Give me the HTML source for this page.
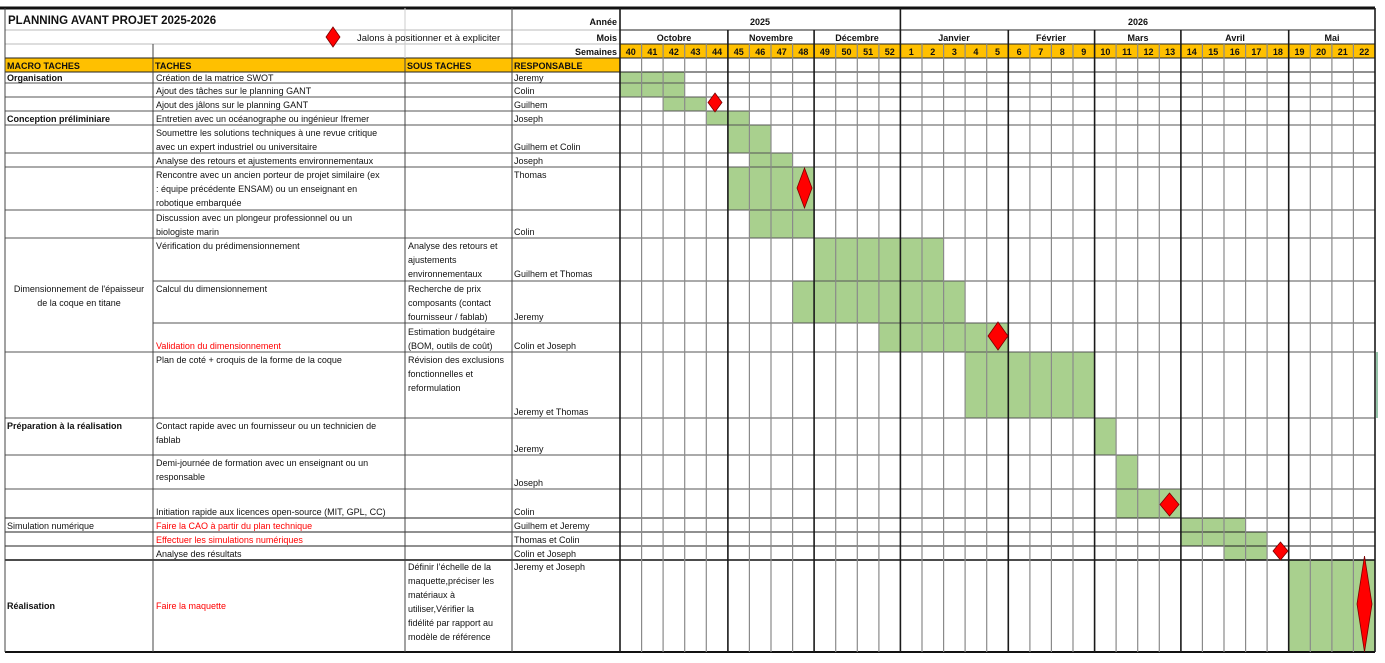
<!DOCTYPE html>
<html><head><meta charset="utf-8"><style>
html,body{margin:0;padding:0;background:#fff;}
svg{display:block;font-family:"Liberation Sans",sans-serif;}
.t{font-size:9px;fill:#111;}
.b{font-size:9px;font-weight:bold;fill:#111;}
.r{font-size:9px;fill:#ff0000;}
</style></head><body>
<svg width="1385" height="663" viewBox="0 0 1385 663" xmlns="http://www.w3.org/2000/svg">
<!-- orange fills -->
<rect x="5" y="58" width="615" height="14" fill="#FFC000"/>
<rect x="620" y="44" width="755" height="14" fill="#FFC000"/>
<!-- bars -->
<g fill="#A9D08E">
<rect x="620" y="72" width="64.7" height="11"/>
<rect x="620" y="83" width="64.7" height="14"/>
<rect x="663.1" y="97" width="43.2" height="14"/>
<rect x="706.3" y="111" width="43.1" height="14"/>
<rect x="727.9" y="125" width="43.1" height="28"/>
<rect x="749.4" y="153" width="43.2" height="14"/>
<rect x="727.9" y="167" width="86.2" height="43"/>
<rect x="749.4" y="210" width="64.7" height="28"/>
<rect x="814.1" y="238" width="129.5" height="43"/>
<rect x="792.6" y="281" width="172.5" height="42"/>
<rect x="878.9" y="323" width="129.4" height="29"/>
<rect x="965.1" y="352" width="129.5" height="66"/>
<rect x="1094.6" y="418" width="21.5" height="37"/>
<rect x="1116.1" y="455" width="21.6" height="34"/>
<rect x="1116.1" y="489" width="64.8" height="29"/>
<rect x="1180.9" y="518" width="64.7" height="14"/>
<rect x="1180.9" y="532" width="86.2" height="14"/>
<rect x="1224" y="546" width="43.1" height="14"/>
<rect x="1288.7" y="560" width="86.3" height="92"/>
</g>
<!-- horizontal lines -->
<g stroke="#555" stroke-width="1">
<line x1="5" y1="30" x2="620" y2="30" stroke="#bbb"/>
<line x1="5" y1="44" x2="620" y2="44" stroke="#bbb"/>
<line x1="620" y1="30" x2="1375" y2="30" stroke="#222"/>
<line x1="620" y1="44" x2="1375" y2="44" stroke="#222"/>
<line x1="5" y1="58" x2="1375" y2="58" stroke="#222"/>
<line x1="5" y1="72" x2="1375" y2="72" stroke="#222"/>
<line x1="5" y1="83" x2="1375" y2="83"/>
<line x1="5" y1="97" x2="1375" y2="97"/>
<line x1="5" y1="111" x2="1375" y2="111"/>
<line x1="5" y1="125" x2="1375" y2="125"/>
<line x1="5" y1="153" x2="1375" y2="153"/>
<line x1="5" y1="167" x2="1375" y2="167"/>
<line x1="5" y1="210" x2="1375" y2="210"/>
<line x1="5" y1="238" x2="1375" y2="238"/>
<line x1="153" y1="281" x2="1375" y2="281"/>
<line x1="153" y1="323" x2="1375" y2="323"/>
<line x1="5" y1="352" x2="1375" y2="352"/>
<line x1="5" y1="418" x2="1375" y2="418"/>
<line x1="5" y1="455" x2="1375" y2="455"/>
<line x1="5" y1="489" x2="1375" y2="489"/>
<line x1="5" y1="518" x2="1375" y2="518" stroke="#222"/>
<line x1="5" y1="532" x2="1375" y2="532" stroke="#222"/>
<line x1="5" y1="546" x2="1375" y2="546" stroke="#222"/>
<line x1="5" y1="560" x2="1375" y2="560" stroke="#111" stroke-width="1.5"/>
<line x1="5" y1="652" x2="1375" y2="652" stroke="#111" stroke-width="2"/>
<line x1="0" y1="8" x2="1375" y2="8" stroke="#111" stroke-width="3"/>
</g>
<!-- left vertical lines -->
<g stroke="#444" stroke-width="1">
<line x1="5" y1="8" x2="5" y2="652"/>
<line x1="153" y1="44" x2="153" y2="652"/>
<line x1="405" y1="8" x2="405" y2="652" stroke="#ccc"/>
<line x1="405" y1="58" x2="405" y2="652"/>
<line x1="512" y1="8" x2="512" y2="652"/>
</g>
<!-- week grid lines -->
<g stroke="#8a8a8a" stroke-width="1.2">
<line x1="641.6" y1="44" x2="641.6" y2="652"/><line x1="663.1" y1="44" x2="663.1" y2="652"/><line x1="684.7" y1="44" x2="684.7" y2="652"/><line x1="706.3" y1="44" x2="706.3" y2="652"/>
<line x1="749.4" y1="44" x2="749.4" y2="652"/><line x1="771" y1="44" x2="771" y2="652"/><line x1="792.6" y1="44" x2="792.6" y2="652"/>
<line x1="835.7" y1="44" x2="835.7" y2="652"/><line x1="857.3" y1="44" x2="857.3" y2="652"/><line x1="878.9" y1="44" x2="878.9" y2="652"/>
<line x1="922" y1="44" x2="922" y2="652"/><line x1="943.6" y1="44" x2="943.6" y2="652"/><line x1="965.1" y1="44" x2="965.1" y2="652"/><line x1="986.7" y1="44" x2="986.7" y2="652"/>
<line x1="1029.9" y1="44" x2="1029.9" y2="652"/><line x1="1051.4" y1="44" x2="1051.4" y2="652"/><line x1="1073" y1="44" x2="1073" y2="652"/>
<line x1="1116.1" y1="44" x2="1116.1" y2="652"/><line x1="1137.7" y1="44" x2="1137.7" y2="652"/><line x1="1159.3" y1="44" x2="1159.3" y2="652"/>
<line x1="1202.4" y1="44" x2="1202.4" y2="652"/><line x1="1224" y1="44" x2="1224" y2="652"/><line x1="1245.6" y1="44" x2="1245.6" y2="652"/><line x1="1267.1" y1="44" x2="1267.1" y2="652"/>
<line x1="1310.3" y1="44" x2="1310.3" y2="652"/><line x1="1331.9" y1="44" x2="1331.9" y2="652"/><line x1="1353.4" y1="44" x2="1353.4" y2="652"/>
</g>
<!-- month lines -->
<g stroke="#1a1a1a" stroke-width="1.6">
<line x1="620" y1="8" x2="620" y2="652"/>
<line x1="727.9" y1="30" x2="727.9" y2="652"/>
<line x1="814.1" y1="30" x2="814.1" y2="652"/>
<line x1="900.4" y1="8" x2="900.4" y2="652"/>
<line x1="1008.3" y1="30" x2="1008.3" y2="652"/>
<line x1="1094.6" y1="30" x2="1094.6" y2="652"/>
<line x1="1180.9" y1="30" x2="1180.9" y2="652"/>
<line x1="1288.7" y1="30" x2="1288.7" y2="652"/>
<line x1="1375" y1="8" x2="1375" y2="652"/>
</g>
<line x1="1377" y1="352" x2="1377" y2="418" stroke="#2e8b57" stroke-width="1"/>
<!-- diamonds -->
<g fill="#ff0000" stroke="#7a0000" stroke-width="0.8">
<polygon points="333,27 340,37 333,47 326,37"/>
<polygon points="715,93 722,102.5 715,112 708,102.5"/>
<polygon points="804.5,168 812,188 804.5,208 797,188"/>
<polygon points="998,322 1008,336 998,350 988,336"/>
<polygon points="1169.5,493 1179,504.5 1169.5,516 1160,504.5"/>
<polygon points="1280.5,542 1288,551 1280.5,560 1273,551"/>
<polygon points="1364.5,556 1372,604 1364.5,652 1357,604"/>
</g>
<!-- header text -->
<text x="8" y="24" style="font-size:11.5px;font-weight:bold;fill:#111">PLANNING AVANT PROJET 2025-2026</text>
<text x="357" y="41" class="b" style="font-weight:normal;font-size:9.5px">Jalons à positionner et à expliciter</text>
<text x="617" y="25" class="b" text-anchor="end">Année</text>
<text x="617" y="41" class="b" text-anchor="end">Mois</text>
<text x="617" y="55" class="b" text-anchor="end">Semaines</text>
<text x="760" y="25" class="b" text-anchor="middle">2025</text>
<text x="1138" y="25" class="b" text-anchor="middle">2026</text>
<g class="b" text-anchor="middle">
<text x="674" y="41" class="b">Octobre</text>
<text x="771" y="41" class="b">Novembre</text>
<text x="857" y="41" class="b">Décembre</text>
<text x="954" y="41" class="b">Janvier</text>
<text x="1051" y="41" class="b">Février</text>
<text x="1138" y="41" class="b">Mars</text>
<text x="1235" y="41" class="b">Avril</text>
<text x="1332" y="41" class="b">Mai</text>
</g>
<g text-anchor="middle">
<text x="630.8" y="55" class="b">40</text><text x="652.4" y="55" class="b">41</text><text x="673.9" y="55" class="b">42</text><text x="695.5" y="55" class="b">43</text><text x="717.1" y="55" class="b">44</text>
<text x="738.7" y="55" class="b">45</text><text x="760.2" y="55" class="b">46</text><text x="781.8" y="55" class="b">47</text><text x="803.4" y="55" class="b">48</text>
<text x="824.9" y="55" class="b">49</text><text x="846.5" y="55" class="b">50</text><text x="868.1" y="55" class="b">51</text><text x="889.7" y="55" class="b">52</text>
<text x="911.2" y="55" class="b">1</text><text x="932.8" y="55" class="b">2</text><text x="954.4" y="55" class="b">3</text><text x="975.9" y="55" class="b">4</text><text x="997.5" y="55" class="b">5</text>
<text x="1019.1" y="55" class="b">6</text><text x="1040.7" y="55" class="b">7</text><text x="1062.2" y="55" class="b">8</text><text x="1083.8" y="55" class="b">9</text>
<text x="1105.4" y="55" class="b">10</text><text x="1126.9" y="55" class="b">11</text><text x="1148.5" y="55" class="b">12</text><text x="1170.1" y="55" class="b">13</text>
<text x="1191.7" y="55" class="b">14</text><text x="1213.2" y="55" class="b">15</text><text x="1234.8" y="55" class="b">16</text><text x="1256.4" y="55" class="b">17</text><text x="1277.9" y="55" class="b">18</text>
<text x="1299.5" y="55" class="b">19</text><text x="1321.1" y="55" class="b">20</text><text x="1342.7" y="55" class="b">21</text><text x="1364.2" y="55" class="b">22</text>
</g>
<text x="7" y="69" class="b">MACRO TACHES</text>
<text x="155" y="69" class="b">TACHES</text>
<text x="407" y="69" class="b">SOUS TACHES</text>
<text x="514" y="69" class="b">RESPONSABLE</text>
<!-- body text -->
<text x="7" y="81" class="b">Organisation</text>
<text x="156" y="81" class="t">Création de la matrice SWOT</text>
<text x="514" y="81" class="b" style="font-weight:normal">Jeremy</text>
<text x="156" y="94" class="t">Ajout des tâches sur le planning GANT</text>
<text x="514" y="94" class="t">Colin</text>
<text x="156" y="108" class="t">Ajout des jâlons sur le planning GANT</text>
<text x="514" y="108" class="t">Guilhem</text>
<text x="7" y="122" class="b">Conception préliminiare</text>
<text x="156" y="122" class="t">Entretien avec un océanographe ou ingénieur Ifremer</text>
<text x="514" y="122" class="t">Joseph</text>
<text x="156" y="136" class="t">Soumettre les solutions techniques à une revue critique</text>
<text x="156" y="150" class="t">avec un expert industriel ou universitaire</text>
<text x="514" y="150" class="t">Guilhem et Colin</text>
<text x="156" y="164" class="t">Analyse des retours et ajustements environnementaux</text>
<text x="514" y="164" class="t">Joseph</text>
<text x="156" y="178" class="t">Rencontre avec un ancien porteur de projet similaire (ex</text>
<text x="156" y="192" class="t">: équipe précédente ENSAM) ou un enseignant en</text>
<text x="156" y="206" class="t">robotique embarquée</text>
<text x="514" y="178" class="t">Thomas</text>
<text x="156" y="221" class="t">Discussion avec un plongeur professionnel ou un</text>
<text x="156" y="235" class="t">biologiste marin</text>
<text x="514" y="235" class="t">Colin</text>
<text x="79" y="292" class="t" text-anchor="middle">Dimensionnement de l'épaisseur</text>
<text x="79" y="306" class="t" text-anchor="middle">de la coque en titane</text>
<text x="156" y="249" class="t">Vérification du prédimensionnement</text>
<text x="408" y="249" class="t">Analyse des retours et</text>
<text x="408" y="263" class="t">ajustements</text>
<text x="408" y="277" class="t">environnementaux</text>
<text x="514" y="277" class="t">Guilhem et Thomas</text>
<text x="156" y="292" class="t">Calcul du dimensionnement</text>
<text x="408" y="292" class="t">Recherche de prix</text>
<text x="408" y="306" class="t">composants (contact</text>
<text x="408" y="320" class="t">fournisseur / fablab)</text>
<text x="514" y="320" class="t">Jeremy</text>
<text x="156" y="349" class="r">Validation du dimensionnement</text>
<text x="408" y="335" class="t">Estimation budgétaire</text>
<text x="408" y="349" class="t">(BOM, outils de coût)</text>
<text x="514" y="349" class="t">Colin et Joseph</text>
<text x="156" y="363" class="t">Plan de coté + croquis de la forme de la coque</text>
<text x="408" y="363" class="t">Révision des exclusions</text>
<text x="408" y="377" class="t">fonctionnelles et</text>
<text x="408" y="391" class="t">reformulation</text>
<text x="514" y="415" class="t">Jeremy et Thomas</text>
<text x="7" y="429" class="b">Préparation à la réalisation</text>
<text x="156" y="429" class="t">Contact rapide avec un fournisseur ou un technicien de</text>
<text x="156" y="443" class="t">fablab</text>
<text x="514" y="452" class="t">Jeremy</text>
<text x="156" y="466" class="t">Demi-journée de formation avec un enseignant ou un</text>
<text x="156" y="480" class="t">responsable</text>
<text x="514" y="486" class="t">Joseph</text>
<text x="156" y="515" class="t">Initiation rapide aux licences open-source (MIT, GPL, CC)</text>
<text x="514" y="515" class="t">Colin</text>
<text x="7" y="529" class="t">Simulation numérique</text>
<text x="156" y="529" class="r">Faire la CAO à partir du plan technique</text>
<text x="514" y="529" class="t">Guilhem et Jeremy</text>
<text x="156" y="543" class="r">Effectuer les simulations numériques</text>
<text x="514" y="543" class="t">Thomas et Colin</text>
<text x="156" y="557" class="t">Analyse des résultats</text>
<text x="514" y="557" class="t">Colin et Joseph</text>
<text x="7" y="609" class="b">Réalisation</text>
<text x="156" y="609" class="r">Faire la maquette</text>
<text x="408" y="570" class="t">Définir l’échelle de la</text>
<text x="408" y="584" class="t">maquette,préciser les</text>
<text x="408" y="598" class="t">matériaux à</text>
<text x="408" y="612" class="t">utiliser,Vérifier la</text>
<text x="408" y="626" class="t">fidélité par rapport au</text>
<text x="408" y="640" class="t">modèle de référence</text>
<text x="514" y="570" class="t">Jeremy et Joseph</text>
</svg>
</body></html>
